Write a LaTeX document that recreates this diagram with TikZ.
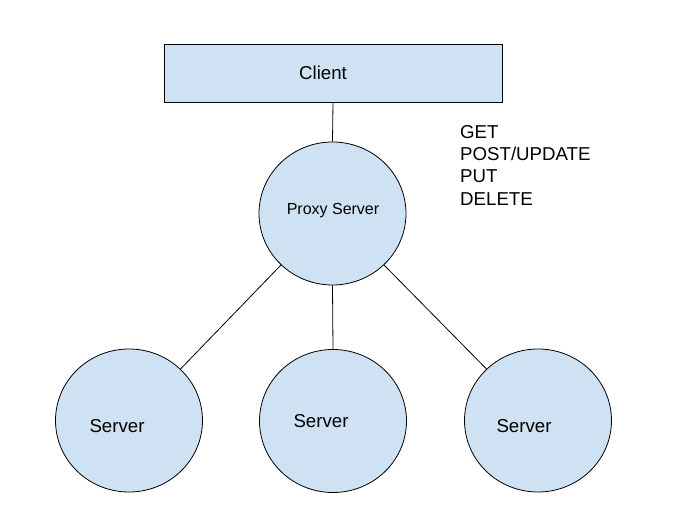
\documentclass[tikz,border=0pt]{standalone}
\usepackage{fontspec}
\setmainfont{Liberation Sans}
\usetikzlibrary{shapes.geometric}
\definecolor{boxfill}{HTML}{CFE2F3}
\begin{document}
\begin{tikzpicture}[x=1pt,y=-1pt,
  shapebox/.style={draw=black,fill=boxfill,line width=0.8pt,inner sep=0pt},
  roundbox/.style={shapebox,ellipse,minimum width=147pt,minimum height=143pt},
  link/.style={draw=black,line width=0.8pt},
  txt/.style={inner sep=0pt,font=\fontsize{18.67pt}{22.3pt}\selectfont}]
\useasboundingbox (0,0) rectangle (678,525);
% client box
\node[shapebox,rectangle,minimum width=338pt,minimum height=58pt] (client) at (333,73) {};
\node[txt] (clientlabel) at (323,73) {Client};
% proxy
\node[roundbox] (proxy) at (332.5,213.5) {};
\node[inner sep=0pt,font=\fontsize{16pt}{19pt}\selectfont] (proxylabel) at (333,210.5) {Proxy Server};
% servers
\node[roundbox] (s1) at (129,420.5) {};
\node[roundbox] (s2) at (333,421) {};
\node[roundbox] (s3) at (538,420.5) {};
\node[txt] (s1label) at (117,426) {Server};
\node[txt] (s2label) at (321,421.5) {Server};
\node[txt] (s3label) at (524,426) {Server};
% request methods
\node[txt,anchor=north west,align=left] (methods) at (460,125) {GET\\POST/UPDATE\\PUT\\DELETE};
% connectors
\draw[link] (client.south) -- (proxy.north);
\draw[link] (proxy.225) -- (s1.45);
\draw[link] (proxy.south) -- (s2.north);
\draw[link] (proxy.315) -- (s3.135);
\end{tikzpicture}
\end{document}
